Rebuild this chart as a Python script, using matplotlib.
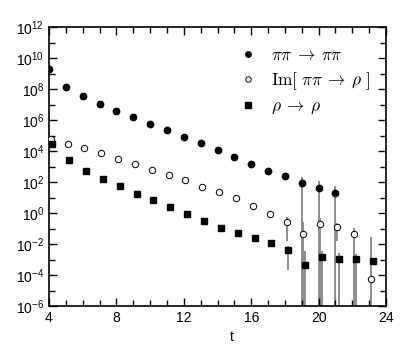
import matplotlib
matplotlib.use("Agg")
import matplotlib.pyplot as plt
import numpy as np
from matplotlib.ticker import FixedLocator, LogFormatterSciNotation, NullFormatter

plt.rcParams["font.family"] = ["Liberation Sans", "DejaVu Sans"]
plt.rcParams["mathtext.fontset"] = "custom"
plt.rcParams["mathtext.rm"] = "Liberation Sans"
plt.rcParams["mathtext.it"] = "Liberation Sans:italic"

# pi pi -> pi pi correlator (filled circles)
t_pipi = [4, 5, 6, 7, 8, 9, 10, 11, 12, 13, 14, 15, 16, 17, 18, 19, 20, 21]
c_pipi = [1.95e9, 1.35e8, 3.4e7, 1.07e7, 4.0e6, 1.48e6, 5.75e5, 2.24e5, 8.3e4,
          3.3e4, 1.2e4, 4.3e3, 1.38e3, 540, 245, 83, 41, 20]
e_pipi = [0, 0, 0, 0, 0, 0, 0, 0, 0, 0, 0, 0, 0, 0, 60, 136, 74, 35]

# Im[pi pi -> rho] (open circles)
t_mix = [4.1, 5.1, 6.1, 7.1, 8.1, 9.1, 10.1, 11.1, 12.1, 13.1, 14.1, 15.1, 16.1,
         17.1, 18.1, 19.1, 20.1, 21.1, 22.1, 23.1]
c_mix = [6.3e4, 2.8e4, 1.5e4, 7.1e3, 3.2e3, 1.45e3, 630, 280, 126, 50, 22, 9.8,
         2.95, 0.91, 0.275, 0.046, 0.21, 0.126, 0.044, 5.2e-5]
e_mix = [0, 0, 0, 0, 0, 0, 0, 0, 0, 0, 0, 0, 0, 0.25, 0.26, 0.22, 0.25, 0.11,
         0.068, 0.03]

# rho -> rho (filled squares)
t_rho = [4.2, 5.2, 6.2, 7.2, 8.2, 9.2, 10.2, 11.2, 12.2, 13.2, 14.2, 15.2, 16.2,
         17.2, 18.2, 19.2, 20.2, 21.2, 22.2, 23.2]
c_rho = [2.7e4, 2.5e3, 540, 160, 52, 18, 6.6, 2.35, 0.91, 0.30, 0.112, 0.054,
         0.023, 0.011, 4.1e-3, 4.5e-4, 1.5e-3, 1.12e-3, 1.07e-3, 8.3e-4]
e_rho = [0, 0, 0, 0, 0, 0, 0, 0, 0, 0, 0, 0, 0.004, 0.004, 3.9e-3, 3.3e-3,
         2.2e-3, 1.4e-3, 1.2e-3, 4e-4]

fig = plt.figure(figsize=(4.09, 3.53), dpi=100)
ax = fig.add_axes([0.1198, 0.1331, 0.8240, 0.7904])
ax.set_yscale("log")

ebar = dict(fmt="none", ecolor="0.55", elinewidth=1.4, capsize=0, zorder=1)
ax.errorbar(t_pipi, c_pipi, yerr=e_pipi, **ebar)
ax.errorbar(t_mix, c_mix, yerr=e_mix, **ebar)
ax.errorbar(t_rho, c_rho, yerr=e_rho, **ebar)

ax.plot(t_pipi, c_pipi, "o", color="k", ms=4.6, ls="none", zorder=3,
        label=r"$\pi\pi\:\rightarrow\:\pi\pi$")
ax.plot(t_mix, c_mix, "o", mfc="white", mec="k", mew=0.7, ms=4.6, ls="none",
        zorder=3, label=r"$\mathrm{Im}[\ \pi\pi\:\rightarrow\:\rho\ ]$")
ax.plot(t_rho, c_rho, "s", color="k", ms=4.6, ls="none", zorder=3,
        label=r"$\rho\:\rightarrow\:\rho$")

ax.set_xlim(4, 24)
ax.set_ylim(1e-6, 1e12)
ax.set_xticks([4, 8, 12, 16, 20, 24])
ax.xaxis.set_minor_locator(FixedLocator(np.arange(4, 25, 1)))
ax.yaxis.set_major_locator(FixedLocator(10.0 ** np.arange(-6, 13, 2)))
ax.yaxis.set_minor_locator(FixedLocator(10.0 ** np.arange(-5, 12, 2)))
ax.yaxis.set_major_formatter(LogFormatterSciNotation())
ax.yaxis.set_minor_formatter(NullFormatter())
ax.tick_params(which="both", direction="in", top=True, right=True,
               labelsize=10, width=1)
ax.tick_params(which="major", length=6)
ax.tick_params(which="minor", length=4)
for s in ax.spines.values():
    s.set_linewidth(1.2)

ax.set_xlabel("t", fontsize=10)
ax.xaxis.set_label_coords(0.543, -0.085)

leg = ax.legend(loc="upper left", bbox_to_anchor=(0.55, 0.95), frameon=False,
                fontsize=12.5, markerscale=0.85, handlelength=0.8,
                handletextpad=0.9, labelspacing=0.4, borderaxespad=0)
for txt in leg.get_texts():
    txt.set_math_fontfamily("cm")

fig.savefig("out.png", dpi=100)
